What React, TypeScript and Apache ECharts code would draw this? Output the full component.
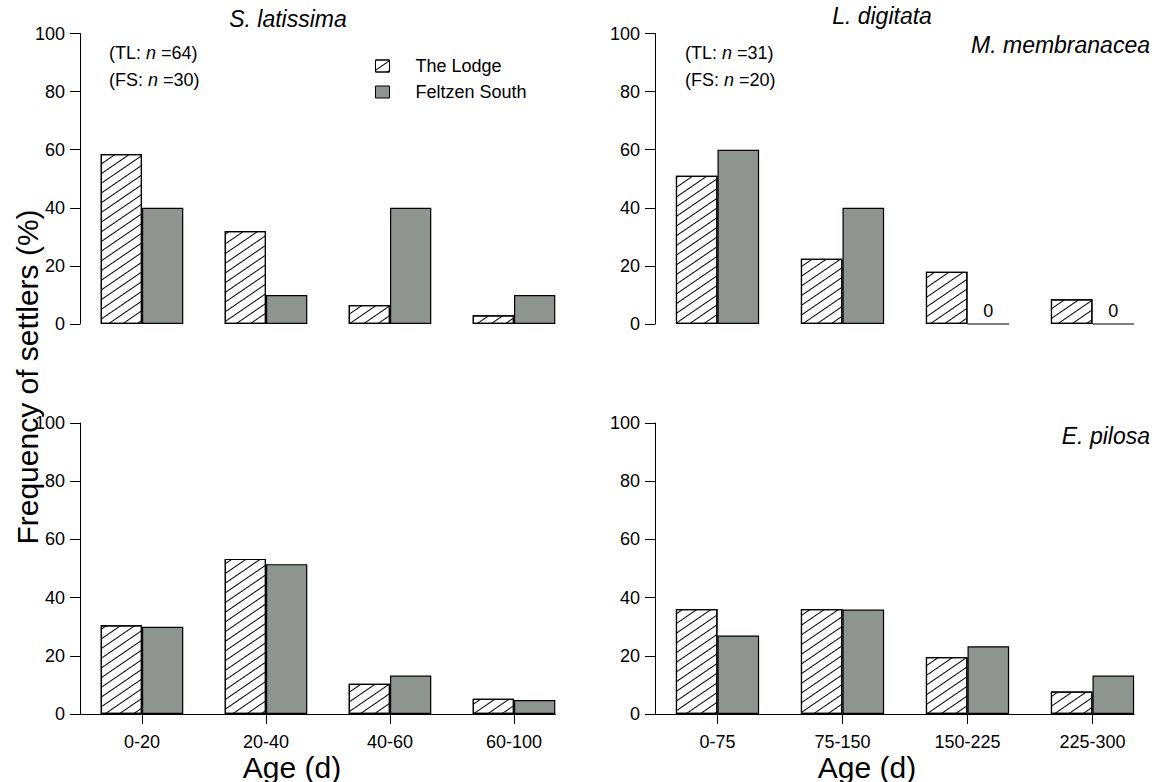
import React, { useEffect, useRef } from "react";
import * as echarts from "echarts";

// Age classes (days)
const ageClassesLeft = ["0-20", "20-40", "40-60", "60-100"];
const ageClassesRight = ["0-75", "75-150", "150-225", "225-300"];

// Frequency of settlers (%) per age class: TL = The Lodge, FS = Feltzen South
const latissimaTL = [58.5, 32, 6.5, 3];
const latissimaFS = [40, 10, 40, 10];
const digitataTL = [51, 22.5, 18, 8.5];
const digitataFS = [60, 40, 0, 0];
const lowerLeftTL = [30.5, 53.3, 10.4, 5.2];
const lowerLeftFS = [30, 51.5, 13.2, 4.8];
const pilosaTL = [36.1, 36.1, 19.6, 7.7];
const pilosaFS = [27, 35.9, 23.3, 13.2];

const yTicks = { min: 0, max: 100, interval: 20 };

const FONT = "'Liberation Sans', Arial, Helvetica, sans-serif";
const BAR_FRAC = 1 / 3;

const hatch = {
  symbol: "rect",
  symbolSize: 1,
  dashArrayX: [1, 0],
  dashArrayY: [1, 6.4],
  rotation: -0.6,
  color: "#000",
  backgroundColor: "#fff",
};

type Panel = {
  left: number;
  top: number;
  width: number;
  height: number;
  cats: string[];
  tl: number[];
  fs: number[];
  bottomAxis: boolean;
};

const panels: Panel[] = [
  { left: 80, top: 33.5, width: 496, height: 290.5, cats: ageClassesLeft, tl: latissimaTL, fs: latissimaFS, bottomAxis: false },
  { left: 655, top: 33.5, width: 500, height: 290.5, cats: ageClassesRight, tl: digitataTL, fs: digitataFS, bottomAxis: false },
  { left: 80, top: 423, width: 496, height: 291, cats: ageClassesLeft, tl: lowerLeftTL, fs: lowerLeftFS, bottomAxis: true },
  { left: 655, top: 423, width: 500, height: 291, cats: ageClassesRight, tl: pilosaTL, fs: pilosaFS, bottomAxis: true },
];

function buildOption() {
  const grid: any[] = [];
  const xAxis: any[] = [];
  const yAxis: any[] = [];
  const series: any[] = [];

  panels.forEach((p, i) => {
    grid.push({ left: p.left, top: p.top, width: p.width, height: p.height });
    xAxis.push({
      type: "category",
      gridIndex: i,
      data: p.cats,
      show: p.bottomAxis,
      axisLine: { show: false },
      axisTick: { show: true, alignWithLabel: true, length: 10, lineStyle: { color: "#000", width: 1 } },
      axisLabel: { fontSize: 18, fontFamily: FONT, color: "#000", margin: 19 },
      splitLine: { show: false },
    });
    yAxis.push({
      type: "value",
      gridIndex: i,
      ...yTicks,
      axisLine: { show: true, lineStyle: { color: "#000", width: 1 } },
      axisTick: { show: true, length: 10, lineStyle: { color: "#000", width: 1 } },
      axisLabel: { fontSize: 18, fontFamily: FONT, color: "#000", margin: 15 },
      splitLine: { show: false },
    });
    series.push({
      type: "bar",
      name: "The Lodge",
      xAxisIndex: i,
      yAxisIndex: i,
      data: p.tl,
      barWidth: "33.3%",
      barGap: "0%",
      itemStyle: { color: "#fff", borderColor: "#000", borderWidth: 1.2, decal: hatch },
    });
    series.push({
      type: "bar",
      name: "Feltzen South",
      xAxisIndex: i,
      yAxisIndex: i,
      data: p.fs,
      barWidth: "33.3%",
      barGap: "0%",
      itemStyle: { color: "#8e9591", borderColor: "#000", borderWidth: 1.2 },
      label: {
        show: true,
        position: "top",
        distance: 3,
        fontSize: 18,
        fontFamily: FONT,
        color: "#000",
        formatter: (d: any) => (d.value === 0 ? "0" : ""),
      },
    });
  });

  // Baseline of the lower panels: from the y axis to the right edge of the last bar
  panels.forEach((p) => {
    if (!p.bottomAxis) return;
    const band = p.width / p.cats.length;
    const lineWidth = p.width - (band * (1 - 2 * BAR_FRAC)) / 2;
    const gi = grid.length;
    grid.push({ left: p.left, top: p.top, width: lineWidth, height: p.height });
    xAxis.push({
      type: "value",
      gridIndex: gi,
      min: 0,
      max: 1,
      axisLine: { show: true, onZero: false, lineStyle: { color: "#000", width: 1 } },
      axisTick: { show: false },
      axisLabel: { show: false },
      splitLine: { show: false },
    });
    yAxis.push({ type: "value", gridIndex: gi, min: 0, max: 1, show: false, splitLine: { show: false } });
  });

  const italicRich = {
    i: { fontStyle: "italic", fontSize: 18, fontFamily: FONT, fill: "#000" },
  };
  const note = (x: number, y: number, site: string, n: number) => ({
    type: "text",
    x,
    y,
    style: {
      text: `(${site}: {i|n} =${n})`,
      fontSize: 18,
      fontFamily: FONT,
      fill: "#000",
      textAlign: "left",
      textVerticalAlign: "middle",
      rich: italicRich,
    },
  });
  const title = (x: number, y: number, text: string, align: string) => ({
    type: "text",
    x,
    y,
    style: {
      text,
      fontSize: 23,
      fontStyle: "italic",
      fontFamily: FONT,
      fill: "#000",
      textAlign: align,
      textVerticalAlign: "middle",
    },
  });
  const axisName = (x: number, y: number, text: string, rotation = 0) => ({
    type: "text",
    x,
    y,
    rotation,
    style: {
      text,
      fontSize: 30,
      fontFamily: FONT,
      fill: "#000",
      textAlign: "center",
      textVerticalAlign: "middle",
    },
  });

  const graphic = [
    title(288, 19, "S. latissima", "center"),
    title(882, 16, "L. digitata", "center"),
    title(1150, 45, "M. membranacea", "right"),
    title(1150, 436, "E. pilosa", "right"),
    note(109, 53, "TL", 64),
    note(109, 80, "FS", 30),
    note(685, 53, "TL", 31),
    note(685, 80, "FS", 20),
    axisName(27, 377, "Frequency of settlers (%)", Math.PI / 2),
    axisName(292, 767, "Age (d)"),
    axisName(867, 767, "Age (d)"),
  ];

  return {
    animation: false,
    backgroundColor: "#fff",
    textStyle: { fontFamily: FONT },
    legend: {
      orient: "vertical",
      left: 370,
      top: 52,
      icon: "rect",
      itemWidth: 14,
      itemHeight: 12,
      itemGap: 8,
      selectedMode: false,
      data: ["The Lodge", "Feltzen South"],
      itemStyle: { borderColor: "#000", borderWidth: 1 },
      textStyle: { fontSize: 18, fontFamily: FONT, color: "#000", padding: [0, 0, 0, 21] },
    },
    grid,
    xAxis,
    yAxis,
    series,
    graphic,
  };
}

export default function App() {
  const ref = useRef<HTMLDivElement>(null);
  useEffect(() => {
    if (!ref.current) return;
    const chart = echarts.init(ref.current, undefined, { renderer: "svg" });
    chart.setOption(buildOption() as any);
    return () => chart.dispose();
  }, []);
  return (
    <div
      ref={ref}
      style={{ position: "absolute", left: 0, top: 0, width: 1157, height: 782, background: "#fff" }}
    />
  );
}
